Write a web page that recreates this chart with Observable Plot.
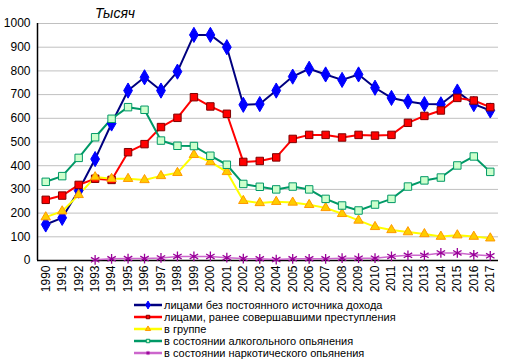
<!DOCTYPE html>
<html>
<head>
<meta charset="utf-8">
<script src="https://cdn.jsdelivr.net/npm/d3@7"></script>
<script src="https://cdn.jsdelivr.net/npm/@observablehq/plot@0.6"></script>
<style>
  html, body { margin: 0; padding: 0; background: #fff; }
  body { width: 512px; height: 363px; overflow: hidden; font-family: "Liberation Sans", Arial, sans-serif; }
  #title { height: 16px; line-height: 16px; padding-left: 95px; font-style: italic; font-size: 14px; color: #000; position: relative; }
  #title span { position: relative; top: 5px; }
  #legend { margin-left: 134px; margin-top: 1px; font-size: 11px; color: #000; }
  .row { height: 12px; display: flex; align-items: center; }
  .row svg { margin-right: 2px; }
</style>
</head>
<body>
<div id="title"><span>Тысяч</span></div>
<div id="chart"></div>
<div id="legend"></div>
<script>
const years = d3.range(1990, 2018);
const noIncome = [152,180,295,428,578,717,773,717,797,952,952,900,657,660,717,776,809,785,762,785,729,686,671,660,659,713,660,633];
const repeatOffenders = [256,274,319,345,340,457,491,563,602,689,650,619,416,420,435,513,530,530,519,530,527,530,581,610,633,686,675,647];
const inGroup = [183,208,277,352,345,345,340,357,370,446,416,374,252,243,248,245,235,222,197,169,142,129,120,112,101,107,101,94];
const alcohol = [332,356,433,520,598,647,636,506,484,483,442,404,323,311,300,312,300,260,232,211,236,260,312,338,350,401,439,374];
const drugs = [null,null,null,3,7,8,8,11,17,17,17,12,8,7,4,7,7,7,10,10,10,17,22,22,32,32,24,20];
const yTicks = [0,100,200,300,400,500,600,700,800,900,1000];

const series = [
  {name: "лицами  без постоянного источника дохода", values: noIncome, line: "#000080", symbol: "diamond", fill: "#0000ff", stroke: "#0000ff", r: 4.6, sw: 2},
  {name: "лицами,  ранее совершавшими преступления", values: repeatOffenders, line: "#ff0000", symbol: "square", fill: "#ff0000", stroke: "#800000", r: 4.2, sw: 2},
  {name: "в группе", values: inGroup, line: "#ffff00", symbol: "triangle", fill: "#ffcc00", stroke: "#ff9900", r: 3.5, sw: 2},
  {name: "в состоянии алкогольного  опьянения", values: alcohol, line: "#009966", symbol: "square", fill: "#ccffcc", stroke: "#009966", r: 4.2, sw: 2},
  {name: "в состоянии наркотического опьянения", values: drugs, line: "#cc66cc", symbol: "asterisk", fill: "none", stroke: "#990099", r: 4.6, sw: 1.5}
];

const rows = [];
series.forEach((s, si) => years.forEach((y, i) => {
  if (s.values[i] != null) rows.push({series: si, year: y, value: s.values[i]});
}));

const marks = [
  Plot.gridY(yTicks, {stroke: "#c0c0c0", strokeOpacity: 1, strokeWidth: 1}),
  Plot.axisY({ticks: yTicks, tickSize: 0, tickPadding: 7, fontSize: 12, tickFormat: d => String(d), label: null}),
  Plot.axisX({ticks: years, tickSize: 0, tickPadding: 5, tickRotate: -90, fontSize: 12, tickFormat: d => String(d), label: null}),
  Plot.ruleX([1989.5], {stroke: "#000", strokeWidth: 1.5}),
  Plot.ruleY([0], {stroke: "#000", strokeWidth: 1.5})
];
series.forEach((s, si) => {
  const data = rows.filter(d => d.series === si);
  marks.push(Plot.line(data, {x: "year", y: "value", stroke: s.line, strokeWidth: s.sw}));
});
series.forEach((s, si) => {
  const data = rows.filter(d => d.series === si);
  marks.push(Plot.dot(data, {x: "year", y: "value", symbol: () => s.symbol, r: s.r, fill: s.fill, stroke: s.stroke, strokeWidth: s.symbol === "asterisk" ? 1.3 : 1}));
});

const chart = Plot.plot({
  width: 512,
  height: 282,
  marginLeft: 37,
  marginRight: 14,
  marginTop: 7,
  marginBottom: 38,
  style: {fontFamily: "'Liberation Sans', Arial, sans-serif", fontSize: "12px", color: "#000", background: "#fff"},
  x: {type: "linear", domain: [1989.5, 2017.5], axis: null},
  y: {domain: [0, 1000], axis: null},
  symbol: {type: "identity"},
  marks
});
document.getElementById("chart").appendChild(chart);

const legend = document.getElementById("legend");
series.forEach(s => {
  const row = document.createElement("div");
  row.className = "row";
  const sym = d3.symbol(
    s.symbol === "diamond" ? d3.symbolDiamond : s.symbol === "square" ? d3.symbolSquare : s.symbol === "triangle" ? d3.symbolTriangle : d3.symbolAsterisk,
    s.symbol === "diamond" ? 18 : 12
  )();
  row.innerHTML = `<svg width="28" height="12" viewBox="0 0 28 12"><line x1="0" x2="28" y1="6" y2="6" stroke="${s.line}" stroke-width="2.5"/><path d="${sym}" transform="translate(14,6)" fill="${s.fill}" stroke="${s.stroke}" stroke-width="1"/></svg><span>${s.name}</span>`;
  legend.appendChild(row);
});
</script>
</body>
</html>
